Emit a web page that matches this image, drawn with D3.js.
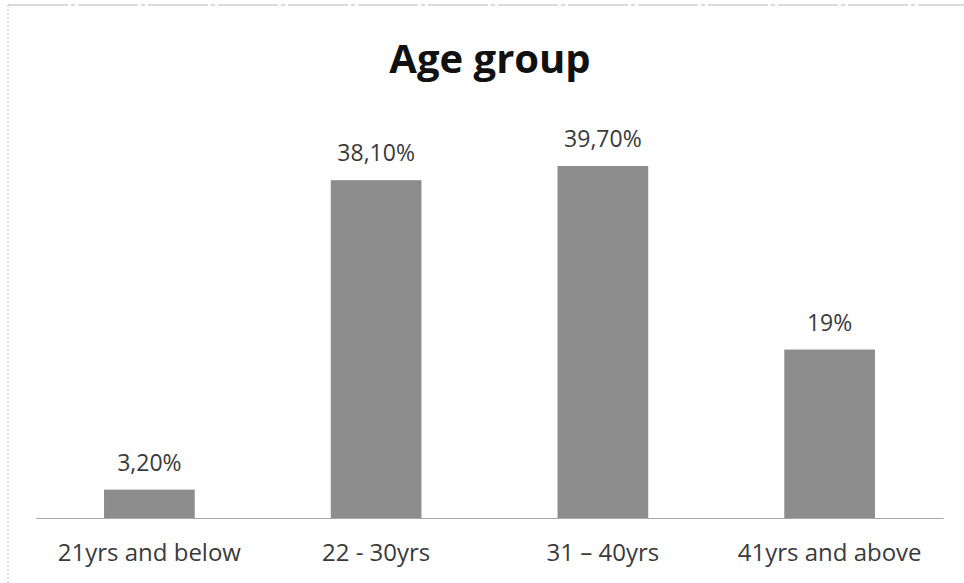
<!DOCTYPE html>
<html>
<head>
<meta charset="utf-8">
<script src="https://cdn.jsdelivr.net/npm/d3@7"></script>
<style>
  body { margin: 0; background: #fff; }
  svg { display: block; }
</style>
</head>
<body>
<div id="chart"></div>
<script>
const categories = ["21yrs and below", "22 - 30yrs", "31 \u2013 40yrs", "41yrs and above"];
const values = [3.2, 38.1, 39.7, 19];
const valueLabels = ["3,20%", "38,10%", "39,70%", "19%"];

const W = 964, H = 583;
const font = "'Open Sans', Lato, 'Liberation Sans', sans-serif";

const svg = d3.select("#chart").append("svg")
    .attr("width", W)
    .attr("height", H);

// frame of the scanned chart
svg.append("line").attr("x1", 8).attr("x2", 964).attr("y1", 5).attr("y2", 5)
    .attr("stroke", "#b5b5b5").attr("stroke-width", 1).attr("stroke-dasharray", "60 3 4 3");
svg.append("line").attr("x1", 8).attr("x2", 8).attr("y1", 5).attr("y2", 583)
    .attr("stroke", "#c0c0c0").attr("stroke-width", 1).attr("stroke-dasharray", "2 2");

const x = d3.scaleBand().domain(categories).range([36, 943]).paddingInner(0.6).paddingOuter(0.3);
const y = d3.scaleLinear().domain([0, 45]).range([518, 119]);

svg.append("text")
    .attr("x", 490).attr("y", 73)
    .attr("text-anchor", "middle")
    .style("font-family", font)
    .style("font-weight", "bold")
    .style("font-size", "40px")
    .style("fill", "#111")
    .text("Age group");

svg.append("g")
    .selectAll("rect")
    .data(values)
    .join("rect")
    .attr("x", (d, i) => x(categories[i]))
    .attr("y", d => y(d))
    .attr("width", x.bandwidth())
    .attr("height", d => y(0) - y(d))
    .attr("fill", "#8d8d8d");

const xAxis = svg.append("g")
    .attr("transform", `translate(0,${y(0)})`)
    .call(d3.axisBottom(x).tickSize(0).tickPadding(26));
xAxis.select(".domain").attr("stroke", "#a6a6a6").attr("stroke-width", 1.2);
xAxis.selectAll("text")
    .style("font-family", font)
    .style("font-size", "24px")
    .style("fill", "#3a3a3a");

svg.append("g")
    .selectAll("text")
    .data(values)
    .join("text")
    .attr("x", (d, i) => x(categories[i]) + x.bandwidth() / 2)
    .attr("y", d => y(d) - 19)
    .attr("text-anchor", "middle")
    .style("font-family", font)
    .style("font-size", "23px")
    .style("fill", "#3a3a3a")
    .text((d, i) => valueLabels[i]);
</script>
</body>
</html>
